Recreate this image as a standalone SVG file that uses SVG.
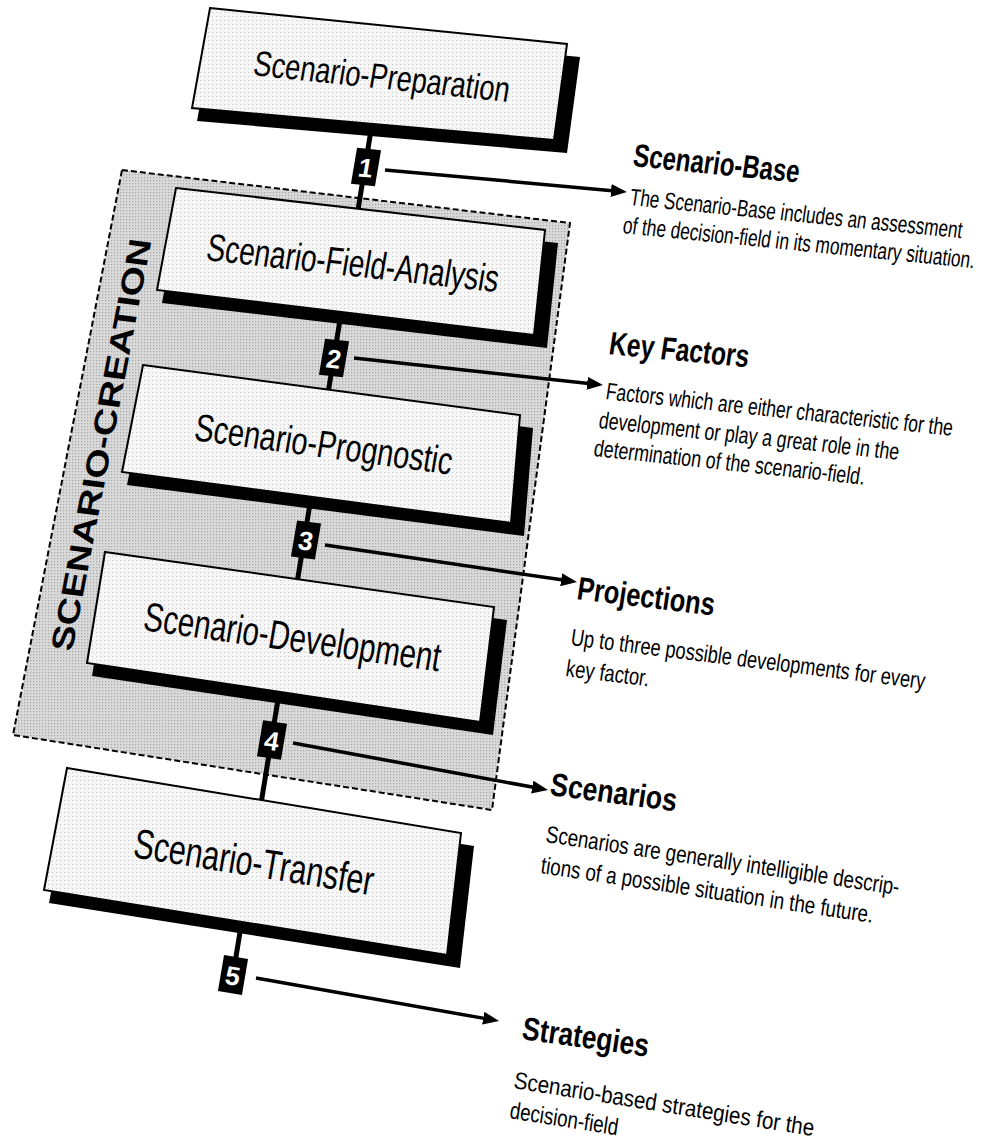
<svg xmlns="http://www.w3.org/2000/svg" width="981" height="1144" viewBox="0 0 981 1144">
  <defs>
    <marker id="head" markerUnits="userSpaceOnUse" markerWidth="16" markerHeight="13" refX="4" refY="6.5" orient="auto">
      <path d="M0,0 L16,6.5 L0,13 z" fill="#000"/>
    </marker>
    <!-- halftone screens for the grey zone and the step faces -->
    <pattern id="screen-zone" patternUnits="userSpaceOnUse" width="3" height="3">
      <rect width="3" height="3" fill="#d9d9d9"/>
      <rect width="1.2" height="1.2" fill="#a8a8a8"/>
    </pattern>
    <pattern id="screen-face" patternUnits="userSpaceOnUse" width="4" height="4">
      <rect width="4" height="4" fill="#f6f6f6"/>
      <rect width="1" height="1" fill="#c4c4c4"/>
    </pattern>
    <style>
      .zone { fill: url(#screen-zone); stroke: #000; stroke-width: 2; stroke-dasharray: 6 3; }
      .face { fill: url(#screen-face); stroke: #000; stroke-width: 2; }
      .shade { fill: #000; }
      .label { font-family: "Liberation Sans", Arial, sans-serif; fill: #000; }
      .tag { fill: #000; }
      .num { font-family: "Liberation Sans", Arial, sans-serif; font-weight: bold; font-size: 26px; fill: #fff; text-anchor: middle; }
      .head { font-family: "Liberation Sans", Arial, sans-serif; font-weight: bold; font-size: 32px; fill: #000; }
      .desc { font-family: "Liberation Sans", Arial, sans-serif; font-size: 23.5px; fill: #000; }
      .trunk { stroke: #000; stroke-width: 5; fill: none; }
      .arrow { stroke: #000; stroke-width: 3.5; fill: none; marker-end: url(#head); }
    </style>
  </defs>
  <rect width="981" height="1144" fill="#fff"/>

  <!-- scenario-creation zone -->
  <g id="creation-zone">
    <polygon class="zone" points="122,170 570,223 492,810 13,735"/>
    <text class="label" font-weight="bold" font-size="31" transform="matrix(0.193,-1,1,0.13,72,652)" textLength="412" lengthAdjust="spacingAndGlyphs">SCENARIO-CREATION</text>
  </g>

  <!-- vertical trunk joining the steps -->
  <g id="connectors">
    <line class="trunk" x1="373" y1="118" x2="233" y2="975"/>
  </g>

  <!-- step labels: x axis condensed by 0.75 in the transform -->
  <g id="step-preparation">
    <polygon class="shade" points="215,21 580,57 567,153 197,121"/>
    <polygon class="face" points="210,8 567,44 554,140 192,108"/>
    <text class="label" font-size="35" transform="matrix(0.75,0.079,-0.17,1,252,75)" textLength="341" lengthAdjust="spacingAndGlyphs">Scenario-Preparation</text>
  </g>

  <g id="step-field-analysis">
    <polygon class="shade" points="181,201 558,243 547,348 162,303"/>
    <polygon class="face" points="176,188 545,230 534,335 157,290"/>
    <text class="label" font-size="38" transform="matrix(0.75,0.0825,-0.17,1,205,260)" textLength="389" lengthAdjust="spacingAndGlyphs">Scenario-Field-Analysis</text>
  </g>

  <g id="step-prognostic">
    <polygon class="shade" points="148,378 533,428 524,536 127,485"/>
    <polygon class="face" points="143,365 520,415 511,523 122,472"/>
    <text class="label" font-size="38" transform="matrix(0.75,0.101,-0.17,1,193,440)" textLength="343" lengthAdjust="spacingAndGlyphs">Scenario-Prognostic</text>
  </g>

  <g id="step-development">
    <polygon class="shade" points="110,565 507,620 493,735 92,676"/>
    <polygon class="face" points="105,552 494,607 480,722 87,663"/>
    <text class="label" font-size="40" transform="matrix(0.75,0.105,-0.17,1,142,630)" textLength="395" lengthAdjust="spacingAndGlyphs">Scenario-Development</text>
  </g>

  <g id="step-transfer">
    <polygon class="shade" points="72,781 474,846 460,968 49,903"/>
    <polygon class="face" points="67,768 461,833 447,955 44,890"/>
    <text class="label" font-size="41" transform="matrix(0.75,0.12,-0.17,1,132,857)" textLength="319" lengthAdjust="spacingAndGlyphs">Scenario-Transfer</text>
  </g>

  <!-- numbered markers on the trunk -->
  <g id="tag-1" transform="matrix(1,0.1,-0.17,1,366,167)">
    <rect class="tag" x="-12" y="-18" width="24" height="36"/>
    <text class="num" x="0" y="10">1</text>
  </g>
  <g id="tag-2" transform="matrix(1,0.11,-0.17,1,334,358)">
    <rect class="tag" x="-12" y="-18" width="24" height="36"/>
    <text class="num" x="0" y="10">2</text>
  </g>
  <g id="tag-3" transform="matrix(1,0.13,-0.17,1,306,540)">
    <rect class="tag" x="-12" y="-18" width="24" height="36"/>
    <text class="num" x="0" y="10">3</text>
  </g>
  <g id="tag-4" transform="matrix(1,0.14,-0.17,1,272,740)">
    <rect class="tag" x="-12" y="-18" width="24" height="36"/>
    <text class="num" x="0" y="10">4</text>
  </g>
  <g id="tag-5" transform="matrix(1,0.16,-0.17,1,233,975)">
    <rect class="tag" x="-12" y="-18" width="24" height="36"/>
    <text class="num" x="0" y="10">5</text>
  </g>

  <!-- result arrows -->
  <g id="result-arrows">
    <line class="arrow" x1="385" y1="170" x2="615" y2="190.9"/>
    <line class="arrow" x1="354" y1="358" x2="591.1" y2="383.7"/>
    <line class="arrow" x1="325" y1="545" x2="565.1" y2="580.3"/>
    <line class="arrow" x1="293" y1="743" x2="536.2" y2="787.8"/>
    <line class="arrow" x1="256" y1="978" x2="487.2" y2="1018.9"/>
  </g>

  <!-- result texts: headings condensed by 0.78, descriptions by 0.73 -->
  <g id="result-base">
    <text class="head" transform="matrix(0.78,0.078,-0.15,1,632,166)" textLength="213" lengthAdjust="spacingAndGlyphs">Scenario-Base</text>
    <text class="desc" transform="matrix(0.73,0.073,-0.15,1,629,205)" textLength="455" lengthAdjust="spacingAndGlyphs">The Scenario-Base includes an assessment</text>
    <text class="desc" transform="matrix(0.73,0.073,-0.15,1,622,233)" textLength="482" lengthAdjust="spacingAndGlyphs">of the decision-field in its momentary situation.</text>
  </g>

  <g id="result-key-factors">
    <text class="head" transform="matrix(0.78,0.074,-0.15,1,608,354)" textLength="179" lengthAdjust="spacingAndGlyphs">Key Factors</text>
    <text class="desc" transform="matrix(0.73,0.0774,-0.15,1,605,399)" textLength="475" lengthAdjust="spacingAndGlyphs">Factors which are either characteristic for the</text>
    <text class="desc" transform="matrix(0.73,0.0774,-0.15,1,598,428)" textLength="411" lengthAdjust="spacingAndGlyphs">development or play a great role in the</text>
    <text class="desc" transform="matrix(0.73,0.0774,-0.15,1,593,456)" textLength="371" lengthAdjust="spacingAndGlyphs">determination of the scenario-field.</text>
  </g>

  <g id="result-projections">
    <text class="head" transform="matrix(0.78,0.094,-0.15,1,576,599)" textLength="176" lengthAdjust="spacingAndGlyphs">Projections</text>
    <text class="desc" transform="matrix(0.73,0.091,-0.15,1,570,645)" textLength="485" lengthAdjust="spacingAndGlyphs">Up to three possible developments for every</text>
    <text class="desc" transform="matrix(0.73,0.091,-0.15,1,565,676)" textLength="114" lengthAdjust="spacingAndGlyphs">key factor.</text>
  </g>

  <g id="result-scenarios">
    <text class="head" transform="matrix(0.78,0.101,-0.15,1,549,795)" textLength="162" lengthAdjust="spacingAndGlyphs">Scenarios</text>
    <text class="desc" transform="matrix(0.73,0.1095,-0.15,1,545,842)" textLength="484" lengthAdjust="spacingAndGlyphs">Scenarios are generally intelligible descrip-</text>
    <text class="desc" transform="matrix(0.73,0.1095,-0.15,1,540,873)" textLength="455" lengthAdjust="spacingAndGlyphs">tions of a possible situation in the future.</text>
  </g>

  <g id="result-strategies">
    <text class="head" transform="matrix(0.78,0.109,-0.15,1,521,1039)" textLength="162" lengthAdjust="spacingAndGlyphs">Strategies</text>
    <text class="desc" transform="matrix(0.73,0.117,-0.15,1,513,1088)" textLength="411" lengthAdjust="spacingAndGlyphs">Scenario-based strategies for the</text>
    <text class="desc" transform="matrix(0.73,0.117,-0.15,1,509,1118)" textLength="148" lengthAdjust="spacingAndGlyphs">decision-field</text>
  </g>
</svg>
